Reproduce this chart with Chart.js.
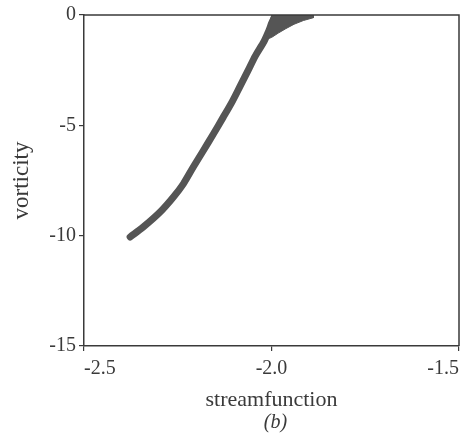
<!DOCTYPE html>
<html>
<head>
<meta charset="utf-8">
<script src="https://cdn.jsdelivr.net/npm/chart.js@4"></script>
<style>
  html, body { margin: 0; padding: 0; background: #fff; }
  #wrap { width: 465px; height: 439px; }
</style>
</head>
<body>
<div id="wrap"><canvas id="c" width="465" height="439"></canvas></div>
<script>
// Main streamfunction–vorticity curve
const curvePsi = [-2.377, -2.342, -2.297, -2.262, -2.235, -2.209, -2.182, -2.155, -2.129, -2.104, -2.083, -2.062, -2.043, -2.020, -2.008, -1.999, -1.992];
const curveOmega = [-10.06, -9.61, -8.93, -8.26, -7.65, -6.90, -6.15, -5.39, -4.64, -3.90, -3.20, -2.50, -1.85, -1.20, -0.75, -0.35, -0.10];
// Fan-shaped spread near zero vorticity (outline)
const fanPsi = [-1.999, -1.888, -1.888, -1.915, -1.940, -1.962, -1.982, -2.000, -2.014, -2.008, -1.999];
const fanOmega = [0, 0, -0.12, -0.25, -0.42, -0.62, -0.82, -1.02, -1.10, -0.45, 0];
// Axes
const xTickValues = [-2.5, -2.0, -1.5];
const xTickLabels = ['-2.5', '-2.0', '-1.5'];
const yTickValues = [0, -5, -10, -15];
const yTickLabels = ['0', '-5', '-10', '-15'];
const xTitle = 'streamfunction';
const yTitle = 'vorticity';
const panelLabel = '(b)';

const FONT = "'Liberation Serif', 'Times New Roman', serif";
const INK = '#3a3a3a';
const MARK = '#555555';

const toPts = (xs, ys) => xs.map((x, i) => ({ x: x, y: ys[i] }));

const framePlugin = {
  id: 'frame',
  afterDraw(chart) {
    const { ctx, chartArea: a } = chart;
    ctx.save();
    ctx.strokeStyle = INK;
    ctx.lineWidth = 1.5;
    ctx.beginPath();
    ctx.moveTo(a.left, a.top);
    ctx.lineTo(a.right, a.top);
    ctx.lineTo(a.right, a.bottom);
    ctx.stroke();
    // panel label
    ctx.fillStyle = INK;
    ctx.font = "italic 20px " + FONT;
    ctx.textAlign = 'center';
    ctx.textBaseline = 'middle';
    ctx.fillText(panelLabel, (a.left + a.right) / 2 + 4, 423);
    ctx.restore();
  }
};

new Chart(document.getElementById('c'), {
  type: 'scatter',
  data: {
    datasets: [
      {
        data: toPts(fanPsi, fanOmega),
        showLine: true,
        fill: 'shape',
        backgroundColor: MARK,
        borderColor: MARK,
        borderWidth: 1,
        pointRadius: 0,
        tension: 0
      },
      {
        data: toPts(curvePsi, curveOmega),
        showLine: true,
        fill: false,
        borderColor: MARK,
        borderWidth: 7,
        borderCapStyle: 'round',
        borderJoinStyle: 'round',
        pointRadius: 0,
        tension: 0.3
      }
    ]
  },
  options: {
    responsive: false,
    animation: false,
    events: [],
    layout: { padding: { top: 14, right: 4, left: 0, bottom: 0 } },
    plugins: { legend: { display: false }, tooltip: { enabled: false } },
    scales: {
      x: {
        type: 'linear',
        min: -2.5, max: -1.5,
        afterBuildTicks(s) { s.ticks = xTickValues.map(v => ({ value: v })); },
        afterFit(s) { s.height = 93; },
        ticks: {
          align: 'inner',
          maxRotation: 0, minRotation: 0,
          padding: 6,
          color: INK,
          font: { family: FONT, size: 20 },
          callback: (v) => { const i = xTickValues.indexOf(v); return i >= 0 ? xTickLabels[i] : ''; }
        },
        grid: { display: true, drawOnChartArea: false, tickLength: 5, color: INK, lineWidth: 1.2 },
        border: { display: true, color: INK, width: 1.5 },
        title: { display: true, text: xTitle, color: INK, font: { family: FONT, size: 22 }, padding: { top: 0, bottom: 26 } }
      },
      y: {
        type: 'linear',
        min: -15, max: 0,
        afterBuildTicks(s) { s.ticks = yTickValues.map(v => ({ value: v })); },
        afterFit(s) { s.width = 84; },
        ticks: {
          padding: 3,
          color: INK,
          font: { family: FONT, size: 20 },
          callback: (v) => { const i = yTickValues.indexOf(v); return i >= 0 ? yTickLabels[i] : ''; }
        },
        grid: { display: true, drawOnChartArea: false, tickLength: 5, color: INK, lineWidth: 1.2 },
        border: { display: true, color: INK, width: 1.5 },
        title: { display: true, text: yTitle, color: INK, font: { family: FONT, size: 23 }, padding: { top: 8, bottom: 0 } }
      }
    }
  },
  plugins: [framePlugin]
});
</script>
</body>
</html>
